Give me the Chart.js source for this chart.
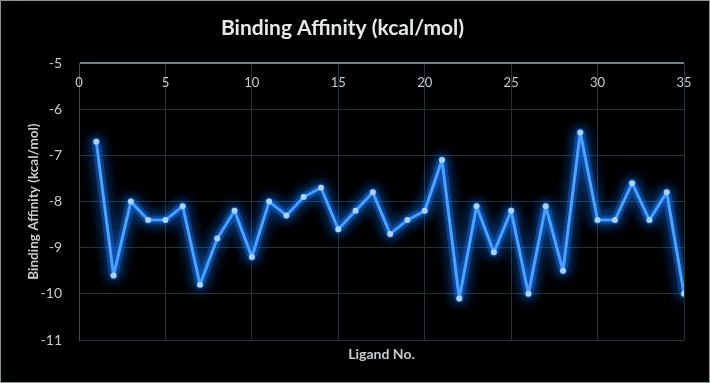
<!DOCTYPE html>
<html>
<head>
<meta charset="utf-8">
<script src="https://cdn.jsdelivr.net/npm/chart.js@4"></script>
<style>
  html, body { margin: 0; padding: 0; background: #000; }
  #wrap { width: 710px; height: 383px; position: relative; box-sizing: border-box; border: 1px solid #8a9594; }
</style>
</head>
<body>
<div id="wrap"><canvas id="chart"></canvas></div>
<script>
/* Binding affinity per ligand — dark glow line chart */

Chart.defaults.font.family = "Lato, 'Open Sans', sans-serif";

var ligandNo = [1, 2, 3, 4, 5, 6, 7, 8, 9, 10, 11, 12, 13, 14, 15, 16, 17, 18,
  19, 20, 21, 22, 23, 24, 25, 26, 27, 28, 29, 30, 31, 32, 33, 34, 35];
var affinity = [-6.7, -9.6, -8.0, -8.4, -8.4, -8.1, -9.8, -8.8, -8.2, -9.2, -8.0, -8.3,
  -7.9, -7.7, -8.6, -8.2, -7.8, -8.7, -8.4, -8.2, -7.1, -10.1, -8.1, -9.1, -8.2,
  -10.0, -8.1, -9.5, -6.5, -8.4, -8.4, -7.6, -8.4, -7.8, -10.0];
var xTicks = [0, 5, 10, 15, 20, 25, 30, 35];
var yTicks = [-5, -6, -7, -8, -9, -10, -11];

var TXT = '#c8cccc';
var GRID = '#1d3638';
var AXIS = '#6f8482';

var points = ligandNo.map(function(n, i) { return { x: n, y: affinity[i] }; });

/* soft blue glow around the line */
var glowPlugin = {
  id: 'glow',
  beforeDatasetDraw: function(chart) {
    var ctx = chart.ctx;
    ctx.save();
    ctx.shadowColor = 'rgba(20,120,255,1)';
    ctx.shadowBlur = 14;
  },
  afterDatasetDraw: function(chart) {
    chart.ctx.restore();
  }
};

/* x labels sit just under the top axis line, Excel style */
var topLabels = {
  id: 'topLabels',
  afterDraw: function(chart) {
    var ctx = chart.ctx, sx = chart.scales.x, top = chart.chartArea.top;
    ctx.save();
    ctx.fillStyle = TXT;
    ctx.font = "13px Lato, 'Open Sans', sans-serif";
    ctx.textAlign = 'center';
    ctx.textBaseline = 'middle';
    xTicks.forEach(function(v) {
      ctx.fillText(String(v), sx.getPixelForValue(v), top + 20);
    });
    ctx.restore();
  }
};

new Chart(document.getElementById('chart'), {
  type: 'line',
  data: {
    datasets: [{
      label: 'Binding Affinity (kcal/mol)',
      data: points,
      borderColor: '#4ba2ff',
      borderWidth: 3,
      borderJoinStyle: 'round',
      borderCapStyle: 'round',
      pointRadius: 3,
      pointBackgroundColor: '#a8d3ff',
      pointBorderColor: '#a8d3ff',
      pointBorderWidth: 0,
      tension: 0,
      order: 0
    }, {
      label: 'glow',
      data: points,
      borderColor: 'rgba(30,120,255,0.35)',
      borderWidth: 9,
      borderJoinStyle: 'round',
      borderCapStyle: 'round',
      pointRadius: 0,
      tension: 0,
      order: 1
    }]
  },
  options: {
    responsive: true, maintainAspectRatio: false, animation: false,
    layout: { padding: { left: 0, right: 25, top: 0, bottom: 0 } },
    plugins: {
      legend: { display: false },
      tooltip: { enabled: false },
      title: {
        display: true, text: 'Binding Affinity (kcal/mol)', color: '#e6e9e9',
        font: { size: 21, weight: 'bold' }, padding: { top: 15, bottom: 22 }
      }
    },
    scales: {
      x: {
        type: 'linear', position: 'bottom', min: 0, max: 35,
        afterBuildTicks: function(s) { s.ticks = xTicks.map(function(v) { return { value: v }; }); },
        ticks: { display: false },
        grid: { color: GRID, drawTicks: false },
        border: { display: false },
        title: {
          display: true, text: 'Ligand No.', color: TXT,
          font: { size: 14, weight: 'bold' }, padding: { top: 6, bottom: 19 }
        },
        afterFit: function(s) { s.height = 42; }
      },
      y: {
        min: -11, max: -5,
        afterBuildTicks: function(s) { s.ticks = yTicks.map(function(v) { return { value: v }; }); },
        ticks: { color: TXT, font: { size: 14 }, padding: 17 },
        grid: {
          drawTicks: false,
          color: function(c) { return c.tick && c.tick.value === -5 ? AXIS : GRID; },
          lineWidth: function(c) { return c.tick && c.tick.value === -5 ? 2 : 1; }
        },
        border: { color: '#3b5553' },
        title: {
          display: true, text: 'Binding Affinity (kcal/mol)', color: TXT,
          font: { size: 13.5, weight: 'bold' }, padding: { top: 25, bottom: 0 }
        },
        afterFit: function(s) { s.width = 78; }
      }
    }
  },
  plugins: [glowPlugin, topLabels]
});
</script>
</body>
</html>
